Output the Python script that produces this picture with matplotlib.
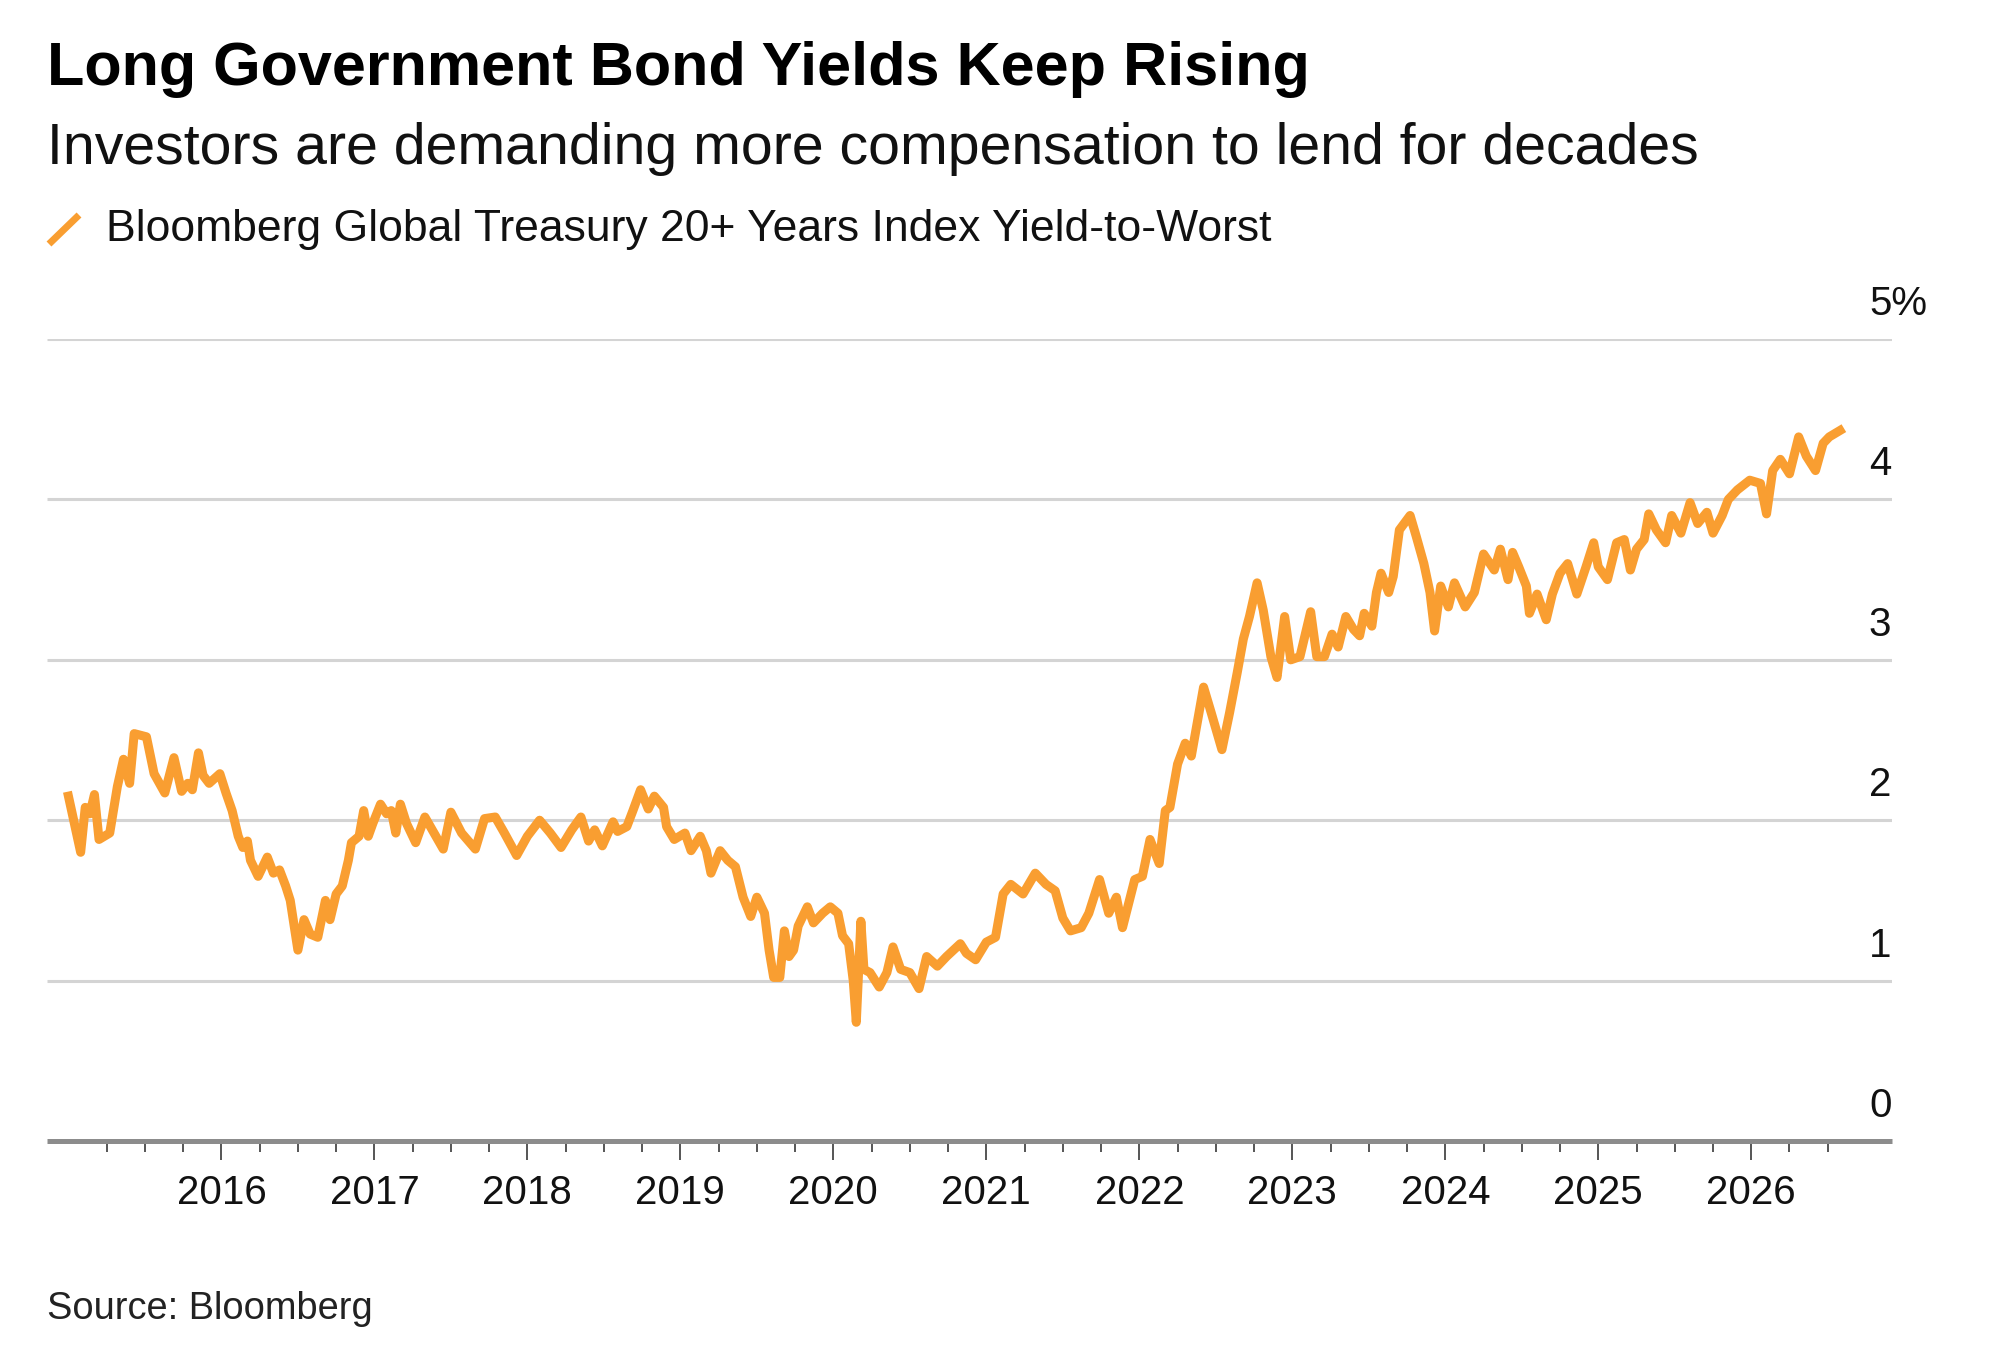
import matplotlib
matplotlib.use("Agg")
import matplotlib.pyplot as plt
from matplotlib.lines import Line2D

plt.rcParams['font.family'] = ['Liberation Sans', 'DejaVu Sans']

# Serie (anio fraccional, rendimiento en %)
years = [
    2015.00, 2015.08, 2015.11, 2015.14, 2015.17, 2015.20, 2015.27, 2015.32, 2015.36, 2015.40,
    2015.43, 2015.51, 2015.56, 2015.63, 2015.69, 2015.74, 2015.78, 2015.81, 2015.85, 2015.88,
    2015.92, 2015.99, 2016.03, 2016.07, 2016.11, 2016.14, 2016.17, 2016.19, 2016.24, 2016.30,
    2016.34, 2016.38, 2016.42, 2016.45, 2016.50, 2016.54, 2016.58, 2016.63, 2016.68, 2016.71,
    2016.75, 2016.79, 2016.83, 2016.85, 2016.90, 2016.93, 2016.96, 2016.99, 2017.04, 2017.08,
    2017.11, 2017.14, 2017.17, 2017.21, 2017.27, 2017.33, 2017.39, 2017.45, 2017.50, 2017.57,
    2017.66, 2017.72, 2017.79, 2017.85, 2017.93, 2018.00, 2018.08, 2018.15, 2018.22, 2018.29,
    2018.35, 2018.40, 2018.44, 2018.49, 2018.56, 2018.59, 2018.65, 2018.69, 2018.74, 2018.79,
    2018.83, 2018.89, 2018.91, 2018.96, 2019.03, 2019.07, 2019.13, 2019.17, 2019.20, 2019.26,
    2019.31, 2019.36, 2019.41, 2019.46, 2019.50, 2019.55, 2019.58, 2019.61, 2019.65, 2019.68,
    2019.71, 2019.74, 2019.77, 2019.83, 2019.87, 2019.93, 2019.98, 2020.03, 2020.06, 2020.10,
    2020.13, 2020.15, 2020.18, 2020.20, 2020.24, 2020.30, 2020.35, 2020.39, 2020.44, 2020.50,
    2020.56, 2020.61, 2020.68, 2020.74, 2020.83, 2020.87, 2020.93, 2021.00, 2021.06, 2021.11,
    2021.16, 2021.24, 2021.32, 2021.39, 2021.45, 2021.50, 2021.55, 2021.62, 2021.67, 2021.74,
    2021.80, 2021.85, 2021.89, 2021.97, 2022.02, 2022.07, 2022.13, 2022.17, 2022.20, 2022.25,
    2022.30, 2022.34, 2022.42, 2022.47, 2022.54, 2022.59, 2022.64, 2022.68, 2022.72, 2022.77,
    2022.81, 2022.86, 2022.90, 2022.95, 2022.99, 2023.05, 2023.12, 2023.16, 2023.21, 2023.26,
    2023.30, 2023.35, 2023.40, 2023.44, 2023.47, 2023.52, 2023.55, 2023.58, 2023.63, 2023.66,
    2023.70, 2023.77, 2023.81, 2023.86, 2023.90, 2023.93, 2023.97, 2024.02, 2024.06, 2024.13,
    2024.19, 2024.25, 2024.32, 2024.36, 2024.41, 2024.44, 2024.48, 2024.53, 2024.55, 2024.60,
    2024.66, 2024.70, 2024.75, 2024.80, 2024.86, 2024.92, 2024.97, 2025.00, 2025.06, 2025.12,
    2025.17, 2025.21, 2025.25, 2025.30, 2025.33, 2025.38, 2025.44, 2025.48, 2025.54, 2025.60,
    2025.65, 2025.71, 2025.75, 2025.81, 2025.85, 2025.91, 2025.99, 2026.06, 2026.10, 2026.14,
    2026.19, 2026.25, 2026.31, 2026.36, 2026.42, 2026.47, 2026.51, 2026.58,
]
yields = [
    2.15, 1.80, 2.08, 2.04, 2.16, 1.88, 1.92, 2.21, 2.38, 2.23,
    2.54, 2.52, 2.29, 2.17, 2.39, 2.18, 2.23, 2.19, 2.42, 2.28,
    2.23, 2.29, 2.17, 2.06, 1.90, 1.83, 1.87, 1.75, 1.65, 1.77,
    1.67, 1.69, 1.59, 1.50, 1.19, 1.38, 1.29, 1.27, 1.50, 1.38,
    1.54, 1.59, 1.75, 1.86, 1.90, 2.06, 1.90, 1.98, 2.10, 2.04,
    2.06, 1.92, 2.10, 1.98, 1.86, 2.02, 1.92, 1.82, 2.05, 1.92,
    1.82, 2.01, 2.02, 1.92, 1.78, 1.90, 2.00, 1.92, 1.83, 1.94,
    2.02, 1.87, 1.94, 1.84, 1.99, 1.93, 1.96, 2.06, 2.19, 2.07,
    2.15, 2.08, 1.96, 1.88, 1.92, 1.81, 1.90, 1.81, 1.67, 1.81,
    1.75, 1.71, 1.52, 1.40, 1.52, 1.42, 1.19, 1.02, 1.02, 1.31,
    1.15, 1.19, 1.34, 1.46, 1.36, 1.42, 1.46, 1.42, 1.28, 1.23,
    1.00, 0.74, 1.37, 1.07, 1.05, 0.96, 1.05, 1.21, 1.07, 1.05,
    0.95, 1.15, 1.09, 1.15, 1.23, 1.17, 1.13, 1.24, 1.27, 1.54,
    1.60, 1.54, 1.67, 1.60, 1.56, 1.39, 1.31, 1.33, 1.42, 1.63,
    1.42, 1.52, 1.33, 1.63, 1.65, 1.88, 1.73, 2.06, 2.08, 2.35,
    2.48, 2.40, 2.83, 2.67, 2.44, 2.67, 2.92, 3.13, 3.27, 3.48,
    3.31, 3.02, 2.89, 3.27, 3.00, 3.02, 3.30, 3.02, 3.02, 3.16,
    3.08, 3.27, 3.19, 3.15, 3.29, 3.21, 3.42, 3.54, 3.42, 3.52,
    3.81, 3.90, 3.77, 3.60, 3.42, 3.18, 3.46, 3.33, 3.48, 3.33,
    3.42, 3.66, 3.56, 3.69, 3.50, 3.67, 3.58, 3.46, 3.29, 3.41,
    3.25, 3.41, 3.54, 3.60, 3.41, 3.58, 3.73, 3.58, 3.50, 3.73,
    3.75, 3.56, 3.69, 3.75, 3.91, 3.81, 3.73, 3.90, 3.79, 3.98,
    3.85, 3.92, 3.79, 3.90, 4.00, 4.06, 4.12, 4.10, 3.91, 4.18,
    4.25, 4.16, 4.39, 4.27, 4.18, 4.35, 4.39, 4.43,
]

year_ticks = [2016, 2017, 2018, 2019, 2020, 2021, 2022, 2023, 2024, 2025, 2026]
year_labels = [str(y) for y in year_ticks]
quarter_ticks = [y + q for y in range(2015, 2027) for q in (0.25, 0.5, 0.75)]
quarter_ticks = [q for q in quarter_ticks if q <= 2026.5]
y_ticks = [0, 1, 2, 3, 4, 5]
y_labels = ['0', '1', '2', '3', '4', '5%']

orange = '#F99E31'

fig = plt.figure(figsize=(20, 13.53), dpi=100)
ax = fig.add_axes([0.0235, 0.1567, 0.9225, 0.5927])

ax.plot(years, yields, color=orange, linewidth=6.5, solid_joinstyle='round', zorder=3)

ax.set_xlim(2014.86, 2026.92)
ax.set_ylim(0, 5)

# rejilla horizontal
for v in y_ticks[1:]:
    ax.axhline(v, color='#d4d4d4', linewidth=2.2, solid_capstyle='butt', zorder=1)

# etiquetas eje y encima de cada linea
for v, lab in zip(y_ticks, y_labels):
    ax.text(0.9875, v + 0.15, lab, transform=ax.get_yaxis_transform(),
            ha='left', va='baseline', fontsize=29, color='#111111')

ax.set_yticks([])
for s in ['left', 'right', 'top']:
    ax.spines[s].set_visible(False)
ax.spines['bottom'].set_color('#8c8c8c')
ax.spines['bottom'].set_linewidth(3.6)
ax.spines['bottom'].set_capstyle('butt')

ax.set_xticks(year_ticks)
ax.set_xticklabels(year_labels, fontsize=29, color='#111111')
ax.set_xticks(quarter_ticks, minor=True)
ax.tick_params(axis='x', which='major', length=14, width=1.4, color='#555555', pad=10)
ax.tick_params(axis='x', which='minor', length=8, width=1.4, color='#555555')

# titulos
fig.text(0.0235, 0.937, 'Long Government Bond Yields Keep Rising',
         fontsize=44, fontweight='bold', color='#000000', va='baseline')
fig.text(0.0235, 0.8788, 'Investors are demanding more compensation to lend for decades',
         fontsize=41.2, color='#111111', va='baseline')

# leyenda
fig.add_artist(Line2D([49 / 2000, 79 / 2000], [1 - 244 / 1353, 1 - 215 / 1353],
                      color=orange, linewidth=5, solid_capstyle='butt'))
fig.text(106 / 2000, 0.8219, 'Bloomberg Global Treasury 20+ Years Index Yield-to-Worst',
         fontsize=32, color='#111111', va='baseline')

fig.text(0.0235, 0.025, 'Source: Bloomberg', fontsize=27.4, color='#222222', va='baseline')

fig.savefig('out.png', dpi=100, facecolor='white')
